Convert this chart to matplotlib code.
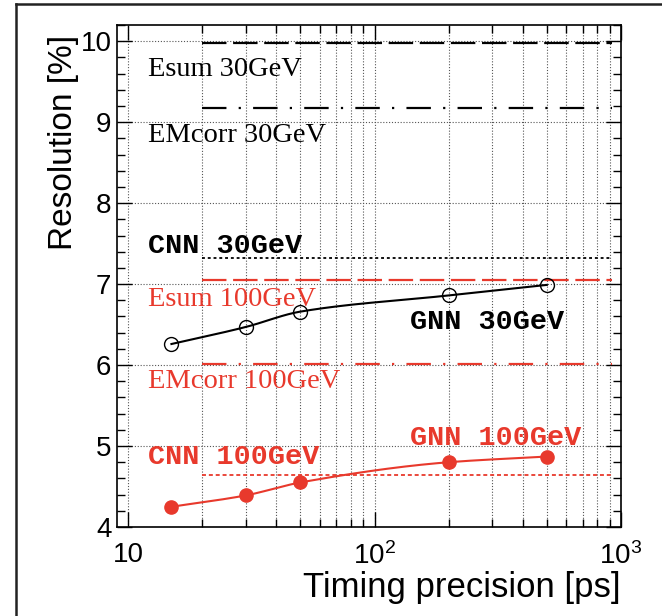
import numpy as np
import matplotlib
matplotlib.use('Agg')
import matplotlib.pyplot as plt
from matplotlib.ticker import LogLocator, FixedLocator, FixedFormatter, NullFormatter, MultipleLocator
from matplotlib.lines import Line2D

# ---------------- data ----------------
timing_ps = [15, 30, 50, 200, 500]
gnn_30gev = [6.26, 6.47, 6.66, 6.86, 6.99]
gnn_100gev = [4.25, 4.39, 4.55, 4.80, 4.87]

ref_range = [20, 920]           # x extent of reference lines
esum_30gev = 9.98
emcorr_30gev = 9.18
cnn_30gev = 7.32
esum_100gev = 7.05
emcorr_100gev = 6.01
cnn_100gev = 4.64

xtick_vals = [10, 100, 1000]
xtick_labels = ['10', r'$\mathregular{10^{2}}$', r'$\mathregular{10^{3}}$']
ytick_vals = [4, 5, 6, 7, 8, 9, 10]

RED = '#E8392C'

plt.rcParams['font.family'] = ['Liberation Sans', 'DejaVu Sans']
plt.rcParams['mathtext.fontset'] = 'custom'
plt.rcParams['mathtext.rm'] = 'Liberation Sans'
plt.rcParams['mathtext.it'] = 'Liberation Sans:italic'
plt.rcParams['mathtext.bf'] = 'Liberation Sans:bold'


def pchip(x, y, xs):
    x = np.asarray(x, float); y = np.asarray(y, float)
    h = np.diff(x); d = np.diff(y) / h
    n = len(x); m = np.zeros(n)
    for k in range(1, n - 1):
        if d[k - 1] * d[k] > 0:
            w1 = 2 * h[k] + h[k - 1]; w2 = h[k] + 2 * h[k - 1]
            m[k] = (w1 + w2) / (w1 / d[k - 1] + w2 / d[k])
    m[0] = d[0]; m[-1] = d[-1]
    out = np.empty_like(xs)
    for i, xv in enumerate(xs):
        k = min(max(np.searchsorted(x, xv) - 1, 0), n - 2)
        t = (xv - x[k]) / h[k]
        h00 = 2 * t**3 - 3 * t**2 + 1; h10 = t**3 - 2 * t**2 + t
        h01 = -2 * t**3 + 3 * t**2; h11 = t**3 - t**2
        out[i] = h00 * y[k] + h10 * h[k] * m[k] + h01 * y[k + 1] + h11 * h[k] * m[k + 1]
    return out


W, H = 662, 616
fig = plt.figure(figsize=(W / 100, H / 100), dpi=100)
ax = fig.add_axes([117 / W, 1 - 527 / H, 504 / W, 502 / H])

ax.set_xscale('log')
ax.set_xlim(9.02, 1000)
ax.set_ylim(4, 10.2)

# grid
ax.xaxis.set_major_locator(FixedLocator(xtick_vals))
ax.xaxis.set_major_formatter(FixedFormatter(xtick_labels))
ax.xaxis.set_minor_locator(LogLocator(base=10, subs=np.arange(2, 10)))
ax.xaxis.set_minor_formatter(NullFormatter())
ax.yaxis.set_major_locator(FixedLocator(ytick_vals))
ax.yaxis.set_minor_locator(MultipleLocator(0.2))
gkw = dict(color='#555555', linestyle=(0, (1, 1.6)), linewidth=0.8)
ax.grid(True, which='both', axis='x', **gkw)
ax.grid(True, which='major', axis='y', **gkw)
ax.set_axisbelow(True)

# reference lines
lw = 1.6
ax.plot(ref_range, [esum_30gev] * 2, color='black', lw=lw, linestyle=(0, (11, 3)))
ax.plot(ref_range, [emcorr_30gev] * 2, color='black', lw=lw, linestyle=(0, (11, 5.5, 1, 5.5)))
ax.plot(ref_range, [cnn_30gev] * 2, color='black', lw=1.3, linestyle=(0, (1.6, 1.6)))
ax.plot(ref_range, [esum_100gev] * 2, color=RED, lw=lw, linestyle=(0, (11, 3)))
ax.plot(ref_range, [emcorr_100gev] * 2, color=RED, lw=lw, linestyle=(0, (11, 5.5, 1, 5.5)))
ax.plot(ref_range, [cnn_100gev] * 2, color=RED, lw=1.3, linestyle=(0, (2.2, 1.6)))

# GNN curves (smooth through points)
lx = np.log10(timing_ps)
xs = np.linspace(lx[0], lx[-1], 300)
ax.plot(10 ** xs, pchip(lx, gnn_30gev, xs), color='black', lw=1.5, zorder=3)
ax.plot(timing_ps, gnn_30gev, linestyle='none', marker='o', ms=10,
        mfc='none', mec='black', mew=1.0, zorder=4)
ax.plot(10 ** xs, pchip(lx, gnn_100gev, xs), color=RED, lw=1.5, zorder=3)
ax.plot(timing_ps, gnn_100gev, linestyle='none', marker='o', ms=9.5,
        mfc=RED, mec=RED, zorder=4)

# annotations
serif = ['Liberation Serif', 'DejaVu Serif']
mono = ['Liberation Mono', 'DejaVu Sans Mono']
SF, MF = 20.5, 20.5
ax.text(12.04, 9.57, 'Esum 30GeV', family=serif, fontsize=SF, color='black', va='baseline')
ax.text(12.04, 8.755, 'EMcorr 30GeV', family=serif, fontsize=SF, color='black', va='baseline')
ax.text(12.04, 7.38, 'CNN 30GeV', family=mono, fontweight='bold', fontsize=MF, color='black', va='baseline')
ax.text(12.04, 6.73, 'Esum 100GeV', family=serif, fontsize=SF, color=RED, va='baseline')
ax.text(12.04, 5.717, 'EMcorr 100GeV', family=serif, fontsize=SF, color=RED, va='baseline')
ax.text(139, 6.446, 'GNN 30GeV', family=mono, fontweight='bold', fontsize=MF, color='black', va='baseline')
ax.text(12.04, 4.78, 'CNN 100GeV', family=mono, fontweight='bold', fontsize=MF, color=RED, va='baseline')
ax.text(139, 5.01, 'GNN 100GeV', family=mono, fontweight='bold', fontsize=MF, color=RED, va='baseline')

# ticks
ax.tick_params(which='both', direction='in', top=True, right=True, labelsize=20, width=1.0)
ax.tick_params(axis='x', which='major', length=10.5, pad=11)
ax.tick_params(axis='x', which='minor', length=5.5)
ax.tick_params(axis='y', which='major', length=10.5, pad=4)
ax.tick_params(axis='y', which='minor', length=5.5)
for s in ax.spines.values():
    s.set_linewidth(1.2)

ax.set_xlabel('Timing precision [ps]', fontsize=25, loc='right')
ax.xaxis.set_label_coords(1.0, -0.088)
ax.set_ylabel('Resolution [%]', fontsize=24, loc='top')
ax.yaxis.set_label_coords(-0.075, 0.98)

# outer frame (cropped)
fig.add_artist(Line2D([16 / W, 16 / W], [0, 1 - 4 / H], transform=fig.transFigure, color='#222222', lw=1.8))
fig.add_artist(Line2D([16 / W, 1], [1 - 4 / H, 1 - 4 / H], transform=fig.transFigure, color='#222222', lw=1.8))

fig.savefig('out.png', dpi=100)
